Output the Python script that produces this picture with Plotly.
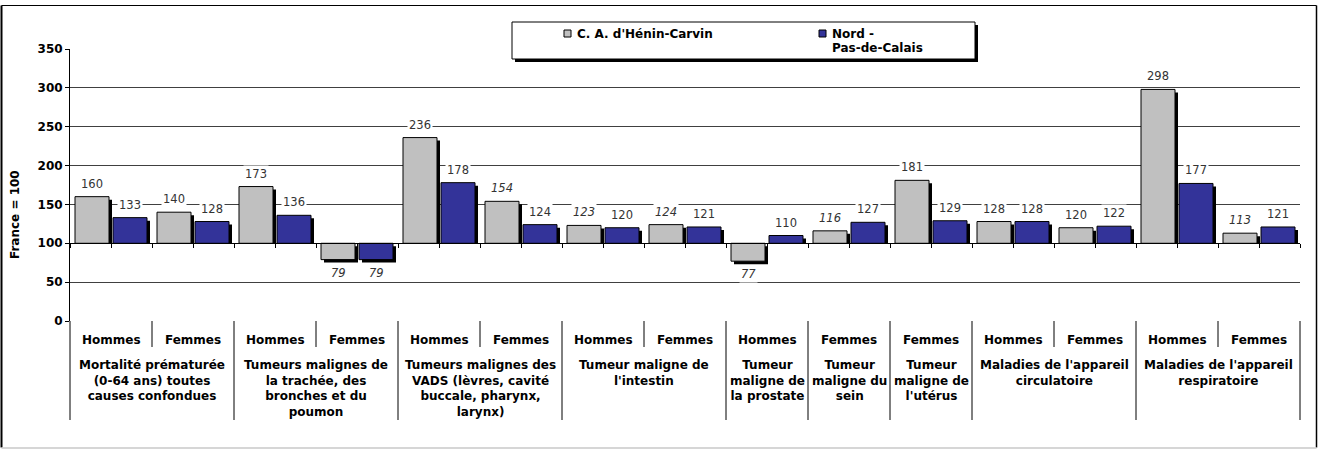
import plotly.graph_objects as go

# ---------------- data ----------------
group_labels = [
    "Mortalité prématurée<br>(0-64 ans) toutes<br>causes confondues",
    "Tumeurs malignes de<br>la trachée, des<br>bronches et du<br>poumon",
    "Tumeurs malignes des<br>VADS (lèvres, cavité<br>buccale, pharynx,<br>larynx)",
    "Tumeur maligne de<br>l'intestin",
    "Tumeur<br>maligne de<br>la prostate",
    "Tumeur<br>maligne du<br>sein",
    "Tumeur<br>maligne de<br>l'utérus",
    "Maladies de l'appareil<br>circulatoire",
    "Maladies de l'appareil<br>respiratoire",
]
group_sizes = [2, 2, 2, 2, 1, 1, 1, 2, 2]
sub_labels = ["Hommes", "Femmes", "Hommes", "Femmes", "Hommes", "Femmes",
              "Hommes", "Femmes", "Hommes", "Femmes", "Femmes",
              "Hommes", "Femmes", "Hommes", "Femmes"]

series_names = ["C. A. d'Hénin-Carvin", "Nord - Pas-de-Calais"]
henin = [160, 140, 173, 79, 236, 154, 123, 124, 77, 116, 181, 128, 120, 298, 113]
nord = [133, 128, 136, 79, 178, 124, 120, 121, 110, 127, 129, 128, 122, 177, 121]
# True = difference not significant (label shown in italics)
henin_ns = [False, False, False, True, False, True, True, True, True, True,
            False, False, False, False, True]
nord_ns = [False, False, False, True, False, False, False, False, False, False,
           False, False, False, False, False]

y_ticks = [0, 50, 100, 150, 200, 250, 300, 350]
base_value = 100
y_title = "France = 100"

# ---------------- layout constants ----------------
W, H = 1319, 450
ML, MR, MT, MB = 70, 19, 49, 129
PW = W - ML - MR
PH = H - MT - MB
n = len(sub_labels)
slot_px = PW / n
y_max = y_ticks[-1]
unit_px = PH / y_max

GRAY = "#C0C0C0"
BLUE = "#333399"
FONT = "DejaVu Sans"

bar_w = 34 / slot_px
off_gray = -36 / slot_px
off_blue = 2 / slot_px
sh_dx = 3 / slot_px
sh_dy = 3 / unit_px


def px2x(px):
    return (px - ML) / PW


def px2y(py):
    return (H - MB - py) / PH


xs = list(range(n))

fig = go.Figure()


def shadow_trace(vals, off):
    bases = [base_value if v >= base_value else base_value - sh_dy for v in vals]
    lens = [(v - sh_dy) - b for v, b in zip(vals, bases)]
    return go.Bar(x=xs, y=lens, base=bases, offset=off + sh_dx, width=bar_w,
                  marker=dict(color="black", line=dict(width=0)),
                  hoverinfo="skip", showlegend=False)


fig.add_trace(shadow_trace(henin, off_gray))
fig.add_trace(shadow_trace(nord, off_blue))

for vals, off, col, name in [(henin, off_gray, GRAY, series_names[0]),
                             (nord, off_blue, BLUE, series_names[1])]:
    fig.add_trace(go.Bar(
        x=xs, y=[v - base_value for v in vals], base=[base_value] * n,
        offset=off, width=bar_w, name=name,
        marker=dict(color=col, line=dict(color="black", width=1)),
        customdata=vals, hovertemplate="%{customdata}<extra>" + name + "</extra>",
        showlegend=False,
    ))

annotations = []
# data labels
for vals, ns, off in [(henin, henin_ns, off_gray), (nord, nord_ns, off_blue)]:
    for i, v in enumerate(vals):
        annotations.append(dict(
            x=i + off + bar_w / 2, y=v, xref="x", yref="y",
            text=str(v), showarrow=False, xanchor="center", yanchor="middle",
            yshift=13 if v >= base_value else -13,
            bgcolor="white", borderpad=1,
            font=dict(family=FONT, size=11.5, color="#333333",
                      style="italic" if ns[i] else "normal"),
        ))

# sub category labels
for i, s in enumerate(sub_labels):
    annotations.append(dict(
        x=(i + 0.5) / n, y=px2y(340), xref="paper", yref="paper",
        text=s, showarrow=False, xanchor="center", yanchor="middle",
        font=dict(family=FONT, size=12, color="black", weight="bold"),
    ))

# group labels & separators
shapes = []
start = 0
boundaries_full = [0]
for g, size in zip(group_labels, group_sizes):
    annotations.append(dict(
        x=(start + size / 2) / n, y=px2y(356), xref="paper", yref="paper",
        text=g, showarrow=False, xanchor="center", yanchor="top", align="center",
        font=dict(family=FONT, size=12, color="black", weight="bold"),
    ))
    for k in range(1, size):
        shapes.append(dict(type="line", xref="paper", yref="paper",
                           x0=(start + k) / n, x1=(start + k) / n,
                           y0=0, y1=px2y(347), line=dict(color="black", width=1)))
    start += size
    boundaries_full.append(start)
for b in boundaries_full:
    shapes.append(dict(type="line", xref="paper", yref="paper",
                       x0=b / n, x1=b / n, y0=0, y1=px2y(420),
                       line=dict(color="black", width=1)))

# y axis title
annotations.append(dict(
    x=px2x(15), y=px2y(215), xref="paper", yref="paper", text=y_title,
    showarrow=False, textangle=-90, xanchor="center", yanchor="middle",
    font=dict(family=FONT, size=12, color="black", weight="bold"),
))

# outer frame
frame_l, frame_t, frame_r, frame_b = 1.5, 5.5, 1316.5, 447.5
for (x0, y0, x1, y1, c, w) in [
    (frame_l, frame_t, frame_r, frame_t, "black", 1),
    (frame_l, frame_t, frame_l, frame_b, "black", 2),
    (frame_r, frame_t, frame_r, frame_b, "black", 1.5),
    (frame_l, frame_b + 0.5, frame_r, frame_b + 0.5, "#C8C8C8", 1.5),
]:
    shapes.append(dict(type="line", xref="paper", yref="paper",
                       x0=px2x(x0), x1=px2x(x1), y0=px2y(y0), y1=px2y(y1),
                       line=dict(color=c, width=w), layer="above"))

# legend (box with shadow)
lx0, ly0, lx1, ly1 = 512, 22, 975, 59
shapes.append(dict(type="rect", xref="paper", yref="paper",
                   x0=px2x(lx0 + 3), x1=px2x(lx1 + 3), y0=px2y(ly0 + 3), y1=px2y(ly1 + 3),
                   fillcolor="black", line=dict(width=0), layer="above"))
shapes.append(dict(type="rect", xref="paper", yref="paper",
                   x0=px2x(lx0), x1=px2x(lx1), y0=px2y(ly0), y1=px2y(ly1),
                   fillcolor="white", line=dict(color="black", width=1), layer="above"))
for sx, col in [(564, GRAY), (819, BLUE)]:
    shapes.append(dict(type="rect", xref="paper", yref="paper",
                       x0=px2x(sx), x1=px2x(sx + 7), y0=px2y(30), y1=px2y(37),
                       fillcolor=col, line=dict(color="black", width=1), layer="above"))
legend_font = dict(family=FONT, size=12, color="black", weight="bold")
annotations.append(dict(x=px2x(575), y=px2y(33.5), xref="paper", yref="paper",
                        text=series_names[0], showarrow=False, xanchor="left",
                        yanchor="middle", font=legend_font))
nord_lines = ["Nord -", "Pas-de-Calais"]
for j, t in enumerate(nord_lines):
    annotations.append(dict(x=px2x(830), y=px2y(33.5 + 14.2 * j), xref="paper", yref="paper",
                            text=t, showarrow=False, xanchor="left",
                            yanchor="middle", font=legend_font))

fig.update_layout(
    width=W, height=H, autosize=False,
    margin=dict(l=ML, r=MR, t=MT, b=MB, pad=0),
    paper_bgcolor="white", plot_bgcolor="white",
    barmode="overlay", showlegend=False,
    annotations=annotations, shapes=shapes,
    xaxis=dict(range=[-0.5, n - 0.5], anchor="free", position=base_value / y_max,
               showline=True, linecolor="black", linewidth=1,
               ticks="outside", ticklen=4, tickcolor="black", tickwidth=1,
               tickvals=[-0.5 + 0.5 * j for j in range(2 * n + 1)],
               showticklabels=False, showgrid=False, zeroline=False,
               fixedrange=True),
    yaxis=dict(range=[0, y_max], tickvals=y_ticks, showgrid=True,
               gridcolor="#404040", gridwidth=1, showline=True, linecolor="black",
               linewidth=1, ticks="outside", ticklen=4, tickcolor="black",
               zeroline=False,
               tickfont=dict(family=FONT, size=12, color="black", weight="bold"),
               fixedrange=True),
)

fig.write_html("out.html",
               config={"displayModeBar": False},
               post_script="document.body.style.margin='0';"
                           "document.body.style.overflow='hidden';")
